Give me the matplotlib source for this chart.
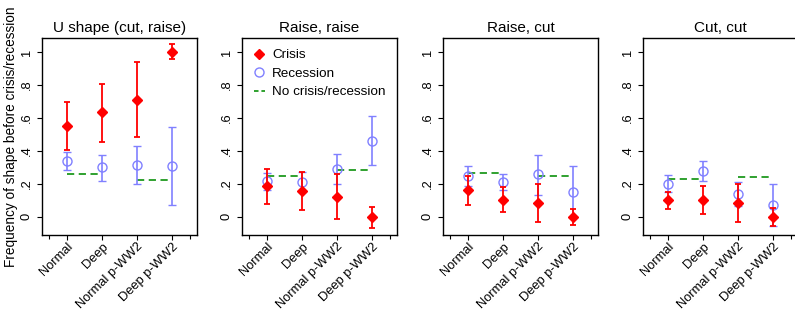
import matplotlib
matplotlib.use("Agg")
import matplotlib.pyplot as plt
from matplotlib.lines import Line2D
import numpy as np

plt.rcParams['font.family'] = ['Liberation Sans', 'DejaVu Sans']

categories = ["Normal", "Deep", "Normal p-WW2", "Deep p-WW2"]
titles = ["U shape (cut, raise)", "Raise, raise", "Raise, cut", "Cut, cut"]
ytick_vals = [0, 0.2, 0.4, 0.6, 0.8, 1.0]
ytick_labels = ["0", ".2", ".4", ".6", ".8", "1"]

# Crisis: point, lower CI, upper CI per panel
crisis_pt = [[0.553, 0.634, 0.711, 1.000],
             [0.190, 0.156, 0.121, 0.000],
             [0.160, 0.105, 0.085, 0.000],
             [0.101, 0.105, 0.085, 0.000]]
crisis_lo = [[0.408, 0.455, 0.485, 0.960],
             [0.081, 0.044, -0.012, -0.065],
             [0.071, 0.028, -0.030, -0.050],
             [0.048, 0.020, -0.032, -0.057]]
crisis_hi = [[0.697, 0.808, 0.939, 1.048],
             [0.292, 0.271, 0.263, 0.061],
             [0.246, 0.182, 0.200, 0.046],
             [0.152, 0.190, 0.200, 0.055]]

# Recession
rec_pt = [[0.341, 0.301, 0.313, 0.307],
          [0.216, 0.212, 0.293, 0.463],
          [0.246, 0.210, 0.257, 0.152],
          [0.200, 0.279, 0.139, 0.075]]
rec_lo = [[0.287, 0.216, 0.200, 0.071],
          [0.162, 0.152, 0.200, 0.313],
          [0.186, 0.160, 0.135, 0.000],
          [0.150, 0.216, 0.065, -0.057]]
rec_hi = [[0.394, 0.378, 0.428, 0.545],
          [0.267, 0.273, 0.382, 0.614],
          [0.307, 0.263, 0.374, 0.307],
          [0.253, 0.340, 0.212, 0.200]]

# No crisis/recession baseline: (pre-WW2 pair, post-WW2 pair)
nocr_pre = [0.259, 0.246, 0.269, 0.232]
nocr_post = [0.224, 0.287, 0.246, 0.244]

RED = "#ff0000"
BLUE = "#8080ff"
GREEN = "#1f9a1f"
DASH = (0, (4, 2.5))

fig = plt.figure(figsize=(7.95, 3.11), dpi=100)
W, H = 795, 311
lefts = [42, 242, 443, 643]
aw = 155
top_px, bot_px = 38, 235

x = np.arange(1, 5)
for i in range(4):
    ax = fig.add_axes([lefts[i] / W, 1 - bot_px / H, aw / W, (bot_px - top_px) / H])
    # baseline
    ax.plot(x[:2], [nocr_pre[i]] * 2, color=GREEN, ls=DASH, lw=1.3, zorder=1)
    ax.plot(x[2:], [nocr_post[i]] * 2, color=GREEN, ls=DASH, lw=1.3, zorder=1)
    rp = np.array(rec_pt[i]); rl = np.array(rec_lo[i]); rh = np.array(rec_hi[i])
    ax.errorbar(x, rp, yerr=[rp - rl, rh - rp], fmt='o', mfc='none', mec=BLUE,
                ecolor=BLUE, ms=6.5, mew=1.0, elinewidth=1.2, capsize=3, capthick=1.2,
                zorder=2)
    cp = np.array(crisis_pt[i]); cl = np.array(crisis_lo[i]); ch = np.array(crisis_hi[i])
    ax.errorbar(x, cp, yerr=[cp - cl, ch - cp], fmt='D', ms=5.2, color=RED, mec=RED,
                ecolor=RED, elinewidth=1.3, capsize=2.5, capthick=1.3, zorder=3)
    ax.set_xlim(0.29, 4.71)
    ax.set_ylim(-0.11, 1.085)
    ax.set_yticks(ytick_vals)
    ax.set_yticklabels(ytick_labels, rotation=90, va='center', fontsize=9.3)
    ax.set_xticks(x)
    ax.set_xticks([0.5, 4.5], minor=True)
    ax.set_xticklabels(categories, rotation=45, ha='right', rotation_mode='anchor',
                       fontsize=9.3)
    ax.tick_params(axis='y', direction='out', length=3.5, width=0.8, pad=3)
    ax.tick_params(axis='x', direction='out', length=3.5, width=0.8, pad=0.5)
    ax.tick_params(axis='x', which='minor', length=3, width=0.8)
    ax.set_title(titles[i], fontsize=11, pad=4)
    for s in ax.spines.values():
        s.set_linewidth(1.0)
    if i == 0:
        ax.set_ylabel("Frequency of shape before crisis/recession", fontsize=9.8,
                      labelpad=2)
    if i == 1:
        handles = [Line2D([], [], marker='D', color=RED, ls='none', ms=5.2),
                   Line2D([], [], marker='o', mfc='none', mec=BLUE, ls='none', ms=6.5),
                   Line2D([], [], color=GREEN, ls=(0, (2.5, 1.6)), lw=1.3)]
        ax.legend(handles, ["Crisis", "Recession", "No crisis/recession"],
                  loc='upper left', frameon=False, fontsize=9.7,
                  handlelength=0.8, handletextpad=0.55, labelspacing=0.45,
                  borderaxespad=0.0, borderpad=0.0,
                  bbox_to_anchor=(12 / 155, 0.945))

fig.savefig("out.png", dpi=100)
